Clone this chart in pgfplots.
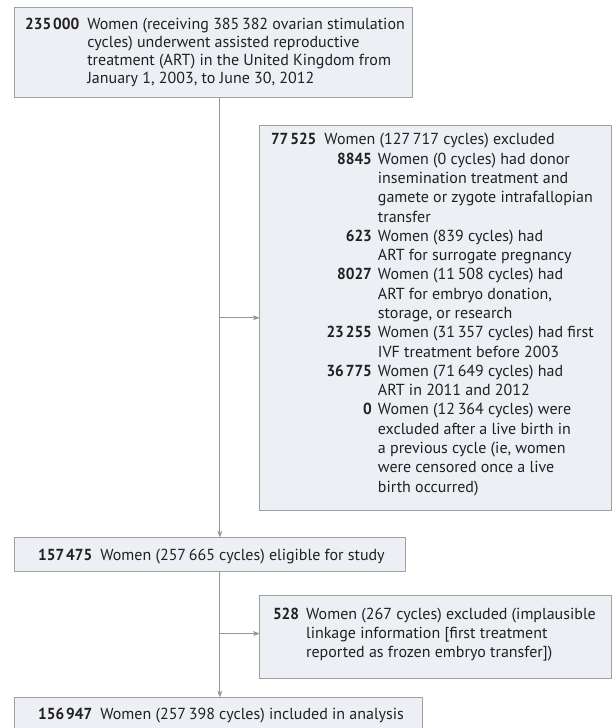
\documentclass[border=0pt]{standalone}
\usepackage{pgfplots}
\pgfplotsset{compat=1.18}
\usepackage{fontspec}
\setmainfont{PT Sans}[BoldFeatures={FakeStretch=0.96}]
\usepackage{array}
\usetikzlibrary{arrows.meta}
\definecolor{boxfill}{RGB}{236,240,244}
\definecolor{boxline}{RGB}{160,160,160}
\definecolor{conn}{RGB}{150,150,150}
\definecolor{txt}{RGB}{35,31,32}
\newcommand{\ts}{\hspace{0.12em}}
\newcommand{\fs}{\fontsize{16}{17.7}\selectfont}
\newcommand{\fsb}{\fontsize{16}{19.3}\selectfont}
\newcommand{\fsc}{\fontsize{16}{19}\selectfont}
\begin{document}
\begin{tikzpicture}
\begin{axis}[width=615pt,height=728pt,scale only axis,
  xmin=0,xmax=615,ymin=0,ymax=728,y dir=reverse,
  axis lines=none,xtick=\empty,ytick=\empty,clip=false]
% frame for the page size
\path (axis cs:0,0) rectangle (axis cs:615,728);
% boxes
\draw[fill=boxfill,draw=boxline,line width=1pt] (axis cs:15,8) rectangle (axis cs:413,98);
\draw[fill=boxfill,draw=boxline,line width=1pt] (axis cs:260,126) rectangle (axis cs:612,511);
\draw[fill=boxfill,draw=boxline,line width=1pt] (axis cs:15,538) rectangle (axis cs:406,572);
\draw[fill=boxfill,draw=boxline,line width=1pt] (axis cs:260,596) rectangle (axis cs:612,679);
\fill[boxfill] (axis cs:15,698) rectangle (axis cs:423,728);
\draw[draw=boxline,line width=1pt] (axis cs:15,728) -- (axis cs:15,698) -- (axis cs:423,698) -- (axis cs:423,728);
% connectors
\addplot[draw=conn,line width=0.9pt,no marks,-{Stealth[length=7pt,width=5pt]}] coordinates {(220,98) (220,538)};
\addplot[draw=conn,line width=0.9pt,no marks,-{Stealth[length=7pt,width=5pt]}] coordinates {(220,318) (260,318)};
\addplot[draw=conn,line width=0.9pt,no marks,-{Stealth[length=7pt,width=5pt]}] coordinates {(220,572) (220,698)};
\addplot[draw=conn,line width=0.9pt,no marks,-{Stealth[length=7pt,width=5pt]}] coordinates {(220,634) (260,634)};
% box 1 text
\node[anchor=base west,inner sep=0,text=txt,font=\fs] at (axis cs:25,30) {%
\begin{tabular}[t]{@{}l@{\hspace{8pt}}l@{}}
\textbf{235\ts000} & Women (receiving 385\,382 ovarian stimulation\\
 & cycles) underwent assisted reproductive\\
 & treatment (ART) in the United Kingdom from\\
 & January 1, 2003, to June 30, 2012
\end{tabular}};
% box 2 text
\node[anchor=base west,inner sep=0,text=txt,font=\fsb] at (axis cs:271,145) {%
\begin{tabular}[t]{@{}>{\raggedleft\arraybackslash}p{101pt}@{\hspace{6pt}}l@{}}
\multicolumn{2}{@{}l@{}}{\textbf{77\ts525}\hspace{8pt}Women (127\,717 cycles) excluded}\\
\textbf{8845} & Women (0 cycles) had donor\\
 & insemination treatment and\\
 & gamete or zygote intrafallopian\\
 & transfer\\
\textbf{623} & Women (839 cycles) had\\
 & ART for surrogate pregnancy\\
\textbf{8027} & Women (11\,508 cycles) had\\
 & ART for embryo donation,\\
 & storage, or research\\
\textbf{23\ts255} & Women (31\,357 cycles) had first\\
 & IVF treatment before 2003\\
\textbf{36\ts775} & Women (71\,649 cycles) had\\
 & ART in 2011 and 2012\\
\textbf{0} & Women (12\,364 cycles) were\\
 & excluded after a live birth in\\
 & a previous cycle (ie, women\\
 & were censored once a live\\
 & birth occurred)
\end{tabular}};
% box 3 text
\node[anchor=base west,inner sep=0,text=txt,font=\fs] at (axis cs:38,561) {\textbf{157\ts475}\hspace{8pt}Women (257\,665 cycles) eligible for study};
% box 4 text
\node[anchor=base west,inner sep=0,text=txt,font=\fsc] at (axis cs:273,620) {%
\begin{tabular}[t]{@{}l@{\hspace{7pt}}l@{}}
\textbf{528} & Women (267 cycles) excluded (implausible\\
 & linkage information [first treatment\\
 & reported as frozen embryo transfer])
\end{tabular}};
% box 5 text
\node[anchor=base west,inner sep=0,text=txt,font=\fs] at (axis cs:38,720) {\textbf{156\ts947}\hspace{8pt}Women (257\,398 cycles) included in analysis};
\end{axis}
\end{tikzpicture}
\end{document}
